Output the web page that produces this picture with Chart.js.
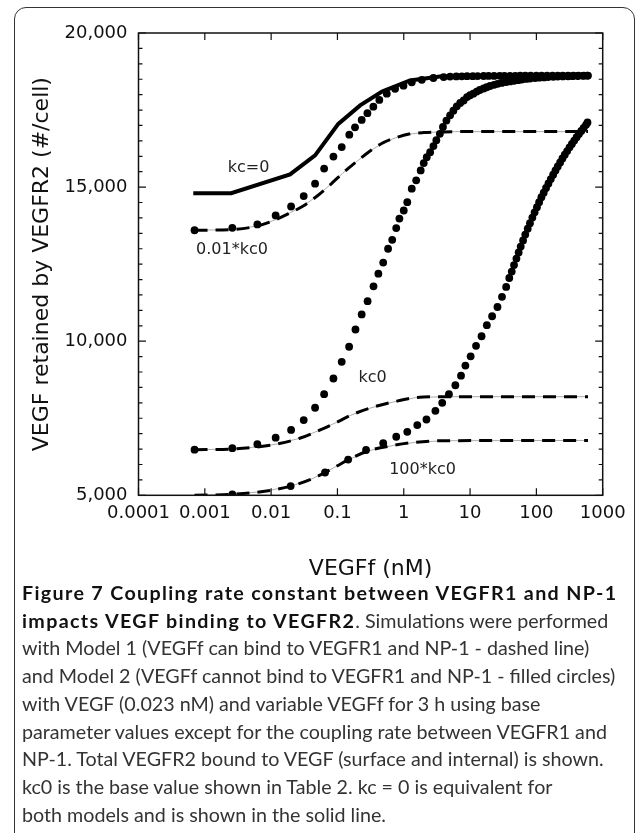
<!DOCTYPE html>
<html>
<head>
<meta charset="utf-8">
<script src="https://cdn.jsdelivr.net/npm/chart.js@4/dist/chart.umd.min.js"></script>
<style>
  html, body { margin: 0; padding: 0; background: #fff; }
  body { width: 638px; height: 833px; position: relative; overflow: hidden; }
  #frame { position: absolute; left: 14px; top: 7px; width: 621px; height: 840px; border: 1.5px solid #333; border-radius: 12px; box-sizing: border-box; }
  #chartBox { position: absolute; left: 0; top: 0; width: 638px; height: 600px; }
  #caption { position: absolute; left: 22px; top: 579px; font-family: Lato, sans-serif; font-size: 19.7px; line-height: 27.7px; color: #333; white-space: nowrap; }
  #caption b { color: #111; letter-spacing: 0.068em; }
</style>
</head>
<body>
<div id="frame"></div>
<div id="chartBox"><canvas id="chart" width="638" height="600"></canvas></div>
<div id="caption">
  <div><b>Figure 7 Coupling rate constant between VEGFR1 and NP-1</b></div>
  <div><b>impacts VEGF binding to VEGFR2</b>. Simulations were performed</div>
  <div>with Model 1 (VEGFf can bind to VEGFR1 and NP-1 - dashed line)</div>
  <div>and Model 2 (VEGFf cannot bind to VEGFR1 and NP-1 - filled circles)</div>
  <div>with VEGF (0.023 nM) and variable VEGFf for 3 h using base</div>
  <div>parameter values except for the coupling rate between VEGFR1 and</div>
  <div>NP-1. Total VEGFR2 bound to VEGF (surface and internal) is shown.</div>
  <div>kc0 is the base value shown in Table 2. kc = 0 is equivalent for</div>
  <div>both models and is shown in the solid line.</div>
</div>
<script>
// Axis ticks
const xTickValues = [0.0001, 0.001, 0.01, 0.1, 1, 10, 100, 1000];
const xTickLabels = ["0.0001", "0.001", "0.01", "0.1", "1", "10", "100", "1000"];
const yTickValues = [5000, 10000, 15000, 20000];
const yTickLabels = ["5,000", "10,000", "15,000", "20,000"];
const yMinorStep = 500;

// kc = 0 (solid line, same for both models)
const solidX = [0.00067, 0.0025, 0.0193, 0.046, 0.103, 0.22, 0.47, 1.24, 3.5, 600];
const solidY = [14800, 14800, 15410, 16030, 17050, 17650, 18100, 18460, 18590, 18620];

// Model 1 (dashed lines)
const dash001X = [0.0007, 0.0026, 0.0062, 0.012, 0.02, 0.03, 0.05, 0.08, 0.12, 0.2, 0.3, 0.5, 0.8, 1.2, 2, 3.5, 6, 600];
const dash001Y = [13600, 13620, 13740, 13950, 14180, 14380, 14720, 15100, 15450, 15850, 16150, 16450, 16620, 16720, 16770, 16790, 16800, 16800];
const dashKc0X = [0.0007, 0.0026, 0.0062, 0.012, 0.027, 0.055, 0.1, 0.16, 0.3, 0.7, 1.5, 4, 600];
const dashKc0Y = [6480, 6500, 6570, 6660, 6850, 7120, 7380, 7600, 7820, 8030, 8170, 8200, 8200];
const dash100X = [0.0007, 0.0026, 0.008, 0.02, 0.04, 0.065, 0.1, 0.145, 0.3, 0.7, 1.5, 4, 600];
const dash100Y = [5000, 5030, 5130, 5300, 5520, 5740, 5960, 6150, 6450, 6620, 6720, 6770, 6780];

// Model 2 (filled circles)
const dots001X = [0.0007, 0.0026, 0.0062, 0.0117, 0.02, 0.031, 0.046, 0.063, 0.087, 0.116, 0.151, 0.184, 0.232, 0.283, 0.348, 0.428, 0.555, 0.74, 0.99, 1.32, 1.87, 2.8, 4.0, 5.0, 6.2, 7.5, 9, 11, 13, 16, 19, 23, 28, 33, 40, 48, 57, 68, 82, 100, 120, 145, 175, 210, 250, 300, 360, 430, 520, 600];
const dots001Y = [13600, 13680, 13790, 14080, 14370, 14710, 15110, 15600, 15990, 16300, 16700, 16940, 17180, 17400, 17610, 17830, 18030, 18190, 18290, 18400, 18480, 18540, 18570, 18585, 18590, 18595, 18598, 18600, 18602, 18604, 18606, 18608, 18610, 18610, 18612, 18612, 18614, 18614, 18615, 18615, 18616, 18616, 18617, 18617, 18618, 18618, 18619, 18619, 18620, 18620];
const dotsKc0X = [0.0007, 0.0026, 0.0062, 0.0117, 0.02, 0.031, 0.046, 0.063, 0.087, 0.116, 0.15, 0.187, 0.232, 0.285, 0.35, 0.414, 0.49, 0.58, 0.67, 0.77, 0.86, 1.0, 1.13, 1.32, 1.54, 1.8, 2.0, 2.22, 2.5, 2.8, 3.1, 3.5, 3.9, 4.4, 5.0, 5.6, 6.3, 7.1, 8.0, 9.0, 10, 11.2, 12.6, 14, 16, 17.8, 20, 23, 26, 30, 35, 40, 46, 53, 60, 70, 80, 95, 110, 130, 150, 180, 210, 250, 300, 350, 420, 500, 580];
const dotsKc0Y = [6480, 6530, 6660, 6870, 7120, 7440, 7840, 8280, 8790, 9330, 9820, 10380, 10870, 11300, 11780, 12190, 12550, 13000, 13290, 13670, 13980, 14240, 14510, 14950, 15220, 15540, 15780, 15970, 16130, 16330, 16520, 16730, 16950, 17160, 17330, 17480, 17620, 17730, 17810, 17920, 17980, 18030, 18100, 18150, 18200, 18240, 18280, 18320, 18350, 18380, 18410, 18430, 18450, 18470, 18490, 18510, 18520, 18540, 18550, 18560, 18570, 18580, 18585, 18590, 18595, 18600, 18605, 18610, 18615];
const dots100X = [0.0026, 0.0197, 0.065, 0.145, 0.27, 0.49, 0.77, 1.13, 1.6, 2.2, 3.0, 3.8, 4.8, 6.0, 7.3, 8.5, 10.2, 12.3, 14.9, 17.9, 21.5, 25.9, 30.3, 35, 39, 42.5, 46, 50, 54, 58, 63, 68, 74, 80, 87, 94, 102, 110, 119, 129, 140, 152, 165, 179, 194, 210, 228, 247, 268, 291, 316, 343, 372, 404, 438, 475, 515, 560, 590];
const dots100Y = [5030, 5300, 5740, 6160, 6470, 6690, 6900, 7060, 7280, 7460, 7740, 8000, 8280, 8570, 8880, 9210, 9510, 9850, 10160, 10520, 10810, 11110, 11440, 11760, 12050, 12260, 12470, 12680, 12880, 13070, 13270, 13460, 13650, 13830, 14010, 14180, 14350, 14510, 14670, 14820, 14970, 15120, 15260, 15400, 15540, 15670, 15800, 15930, 16050, 16170, 16290, 16400, 16510, 16620, 16720, 16820, 16920, 17020, 17100];

// Curve labels, anchored in data units
const curveLabels = [
    { text: "kc=0", x: 0.00456, y: 15640 },
    { text: "0.01*kc0", x: 0.00257, y: 12950 },
    { text: "kc0", x: 0.338, y: 8800 },
    { text: "100*kc0", x: 1.92, y: 5820 }
];

const toPoints = (xs, ys) => xs.map((x, i) => ({ x, y: ys[i] }));

function dotSet(xs, ys) {
    return {
        data: toPoints(xs, ys),
        showLine: false,
        pointRadius: 3.9,
        pointBackgroundColor: "#000",
        pointBorderWidth: 0
    };
}

function lineSet(xs, ys, width, dash, color) {
    return {
        data: toPoints(xs, ys),
        showLine: true,
        borderColor: color || "#000",
        borderWidth: width,
        borderDash: dash || [],
        cubicInterpolationMode: dash ? "monotone" : "default",
        pointRadius: 0
    };
}

// Frame, inward tick marks and curve labels
const framePlugin = {
    id: "framePlugin",
    afterDraw(chart) {
        const { ctx, chartArea: a, scales: { x, y } } = chart;
        ctx.save();
        ctx.strokeStyle = "#111";
        ctx.lineWidth = 1.5;
        ctx.strokeRect(a.left, a.top, a.right - a.left, a.bottom - a.top);

        ctx.lineWidth = 1.2;
        ctx.beginPath();
        xTickValues.forEach(v => {
            const px = x.getPixelForValue(v);
            ctx.moveTo(px, a.bottom); ctx.lineTo(px, a.bottom - 7);
            ctx.moveTo(px, a.top); ctx.lineTo(px, a.top + 7);
        });
        for (let v = yTickValues[0]; v <= yTickValues[yTickValues.length - 1]; v += yMinorStep) {
            const py = y.getPixelForValue(v);
            const len = yTickValues.includes(v) ? 7.5 : 4;
            ctx.moveTo(a.left, py); ctx.lineTo(a.left + len, py);
            ctx.moveTo(a.right, py); ctx.lineTo(a.right - len, py);
        }
        ctx.stroke();

        ctx.fillStyle = "#222";
        ctx.font = '16px "DejaVu Sans"';
        ctx.textAlign = "center";
        ctx.textBaseline = "middle";
        curveLabels.forEach(l => {
            ctx.fillText(l.text, x.getPixelForValue(l.x), y.getPixelForValue(l.y));
        });
        ctx.restore();
    }
};

const ctx = document.getElementById("chart");

new Chart(ctx, {
    type: "scatter",
    data: {
        datasets: [
            dotSet(dots001X, dots001Y),
            dotSet(dotsKc0X, dotsKc0Y),
            dotSet(dots100X, dots100Y),
            lineSet(solidX, solidY, 4),
            lineSet(dash001X, dash001Y, 3, [13, 8]),
            lineSet(dashKc0X, dashKc0Y, 3, [13, 8]),
            lineSet(dash100X, dash100Y, 3, [13, 8]),
            lineSet(dash001X, dash001Y, 0.7, null, "#888"),
            lineSet(dashKc0X, dashKc0Y, 0.7, null, "#888"),
            lineSet(dash100X, dash100Y, 0.7, null, "#888")
        ]
    },
    options: {
        responsive: false,
        animation: false,
        layout: { padding: { left: 0, right: 35.3, top: 33, bottom: 0 } },
        plugins: {
            legend: { display: false },
            tooltip: { enabled: false }
        },
        scales: {
            x: {
                type: "logarithmic",
                position: "bottom",
                min: 0.0001,
                max: 1000,
                grid: { display: false, drawTicks: false },
                border: { display: false },
                afterBuildTicks: s => { s.ticks = xTickValues.map(v => ({ value: v })); },
                afterFit: s => { s.height = 104.7; },
                ticks: {
                    autoSkip: false,
                    maxRotation: 0,
                    minRotation: 0,
                    padding: 7,
                    color: "#111",
                    font: { family: "DejaVu Sans", size: 18 },
                    callback: (v, i) => xTickLabels[i]
                },
                title: {
                    display: true,
                    text: "VEGFf (nM)",
                    color: "#111",
                    font: { family: "DejaVu Sans", size: 22 },
                    padding: { top: 0, bottom: 18 }
                }
            },
            y: {
                type: "linear",
                min: 5000,
                max: 20000,
                grid: { display: false, drawTicks: false },
                border: { display: false },
                afterBuildTicks: s => { s.ticks = yTickValues.map(v => ({ value: v })); },
                afterFit: s => { s.width = 138.5; },
                ticks: {
                    padding: 11,
                    color: "#111",
                    font: { family: "DejaVu Sans", size: 18 },
                    callback: (v, i) => yTickLabels[i]
                },
                title: {
                    display: true,
                    text: "VEGF retained by VEGFR2 (#/cell)",
                    color: "#111",
                    font: { family: "DejaVu Sans", size: 22 },
                    padding: { top: 29, bottom: 0 }
                }
            }
        }
    },
    plugins: [framePlugin]
});
</script>
</body>
</html>
